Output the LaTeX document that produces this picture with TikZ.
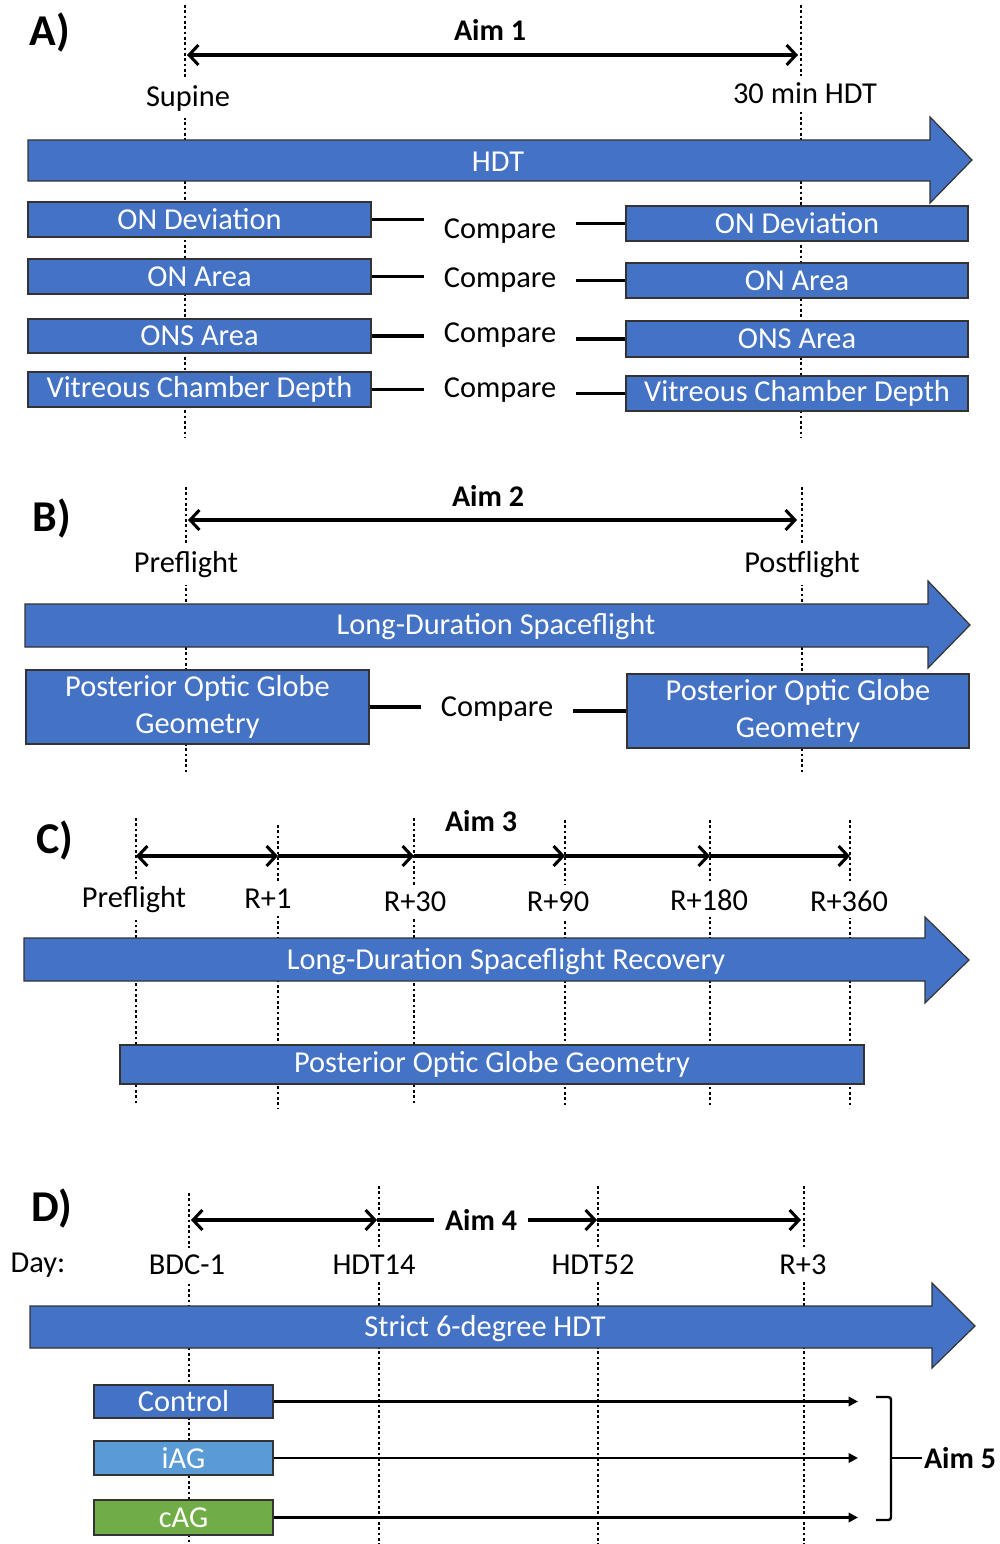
\documentclass[tikz,border=0pt]{standalone}
\usepackage{fontspec}
\setmainfont{Carlito}
\usetikzlibrary{arrows.meta,fit}
\definecolor{myblue}{HTML}{4472C4}
\definecolor{lightblue}{HTML}{5B9BD5}
\definecolor{mygreen}{HTML}{70AD47}
\begin{document}
\begin{tikzpicture}[x=0.75pt,y=-0.75pt,
  txt/.style={font=\fontsize{22.8}{28}\selectfont},
  lbl/.style={txt, fill=white, inner xsep=6pt, inner ysep=5pt},
  cmp/.style={txt, fill=white, minimum width=114pt, inner ysep=4pt},
  aim/.style={font=\bfseries\fontsize{22.5}{27}\selectfont, fill=white, inner sep=3pt},
  panel/.style={font=\bfseries\fontsize{33}{36}\selectfont, inner sep=0pt},
  vline/.style={line width=1.6pt, dash pattern=on 2pt off 2pt},
  bar/.style={fill=myblue, draw=black!80, line width=0.9pt},
  box/.style={bar, inner sep=0pt},
  bartext/.style={txt, text=white, inner sep=0pt, align=center},
  tl/.style={line width=2.3pt, -{Straight Barb[length=7pt,width=15pt]}},
  tlb/.style={line width=2.3pt, {Straight Barb[length=7pt,width=15pt]}-{Straight Barb[length=7pt,width=15pt]}},
  link/.style={line width=2.3pt},
  garrow/.style={line width=1.8pt, -{Triangle[length=7pt,width=7pt]}}
]
\useasboundingbox (0,0) rectangle (999,1544);

% ================= A =================
\coordinate (a1t) at (185,5);   \coordinate (a1b) at (185,438);
\coordinate (a2t) at (801,5);   \coordinate (a2b) at (801,438);
\draw[vline] (a1t) -- (a1b);
\draw[vline] (a2t) -- (a2b);
\node[panel] (pA) at (50,33) {A)};
\node[aim] (aim1) at (490,30) {Aim 1};
\coordinate (a1s) at (187,55); \coordinate (a1e) at (798,55);
\draw[tlb] (a1s) -- (a1e);
\node[lbl] (supine) at (188,98) {Supine};
\node[lbl] (hdt30) at (805,93) {30 min HDT};
\path[bar] (28,140) -- (930,140) -- (930,117) -- (972,160) -- (930,203) -- (930,181) -- (28,181) -- cycle;
\node[bartext] (hdtA) at (498,162) {HDT};

\node[box, fit={(28,202)(371,237)}] (l1) {};
\node[box, fit={(28,259)(371,294)}] (l2) {};
\node[box, fit={(28,319)(371,353)}] (l3) {};
\node[box, fit={(28,372)(371,407)}] (l4) {};
\node[box, fit={(626,206)(968,241)}] (r1) {};
\node[box, fit={(626,263)(968,298)}] (r2) {};
\node[box, fit={(626,321)(968,357)}] (r3) {};
\node[box, fit={(626,376)(968,411)}] (r4) {};
\node[bartext] (tl1) at (l1) {ON Deviation};
\node[bartext] (tl2) at (l2) {ON Area};
\node[bartext] (tl3) at (l3) {ONS Area};
\node[bartext] (tl4) at (l4) {Vitreous Chamber Depth};
\node[bartext] (tr1) at (r1) {ON Deviation};
\node[bartext] (tr2) at (r2) {ON Area};
\node[bartext] (tr3) at (r3) {ONS Area};
\node[bartext] (tr4) at (r4) {Vitreous Chamber Depth};
\node[cmp] (c1) at (500,231) {Compare};
\node[cmp] (c2) at (500,280) {Compare};
\node[cmp] (c3) at (500,335) {Compare};
\node[cmp] (c4) at (500,390) {Compare};
\foreach \i in {1,2,3,4}{
  \draw[link] (l\i.east) -- (l\i.east -| c\i.west);
  \draw[link] (r\i.west -| c\i.east) -- (r\i.west);
}

% ================= B =================
\coordinate (b1t) at (186,487); \coordinate (b1b) at (186,772);
\coordinate (b2t) at (802,487); \coordinate (b2b) at (802,772);
\draw[vline] (b1t) -- (b1b);
\draw[vline] (b2t) -- (b2b);
\node[panel] (pB) at (52,518) {B)};
\node[aim] (aim2) at (488,496) {Aim 2};
\coordinate (b1s) at (188,520); \coordinate (b1e) at (797,520);
\draw[tlb] (b1s) -- (b1e);
\node[lbl] (preB) at (186,565) {Preflight};
\node[lbl] (postB) at (802,565) {Postflight};
\path[bar] (25,604) -- (928,604) -- (928,581) -- (970,625) -- (928,668) -- (928,647) -- (25,647) -- cycle;
\node[bartext] (ldsB) at (496,627) {Long-Duration Spaceflight};
\node[box, fit={(26,670)(369,744)}] (bl) {};
\node[box, fit={(627,674)(969,748)}] (br) {};
\node[bartext] (tbl) at (bl) {Posterior Optic Globe\\Geometry};
\node[bartext] (tbr) at (br) {Posterior Optic Globe\\Geometry};
\node[cmp] (cb) at (497,709) {Compare};
\draw[link] (bl.east) -- (bl.east -| cb.west);
\draw[link] (br.west -| cb.east) -- (br.west);

% ================= C =================
\foreach \n/\x/\t/\b in {1/136/818/1105, 2/278/825/1108, 3/414/818/1105, 4/565/820/1105, 5/710/820/1105, 6/850/820/1108}{
  \coordinate (ct\n) at (\x,\t); \coordinate (cb\n) at (\x,\b);
  \coordinate (cm\n) at (\x,856);
  \draw[vline] (ct\n) -- (cb\n);
}
\node[panel] (pC) at (55,840) {C)};
\node[aim] (aim3) at (481,821) {Aim 3};
\draw[tlb] (cm1) -- (cm2);
\draw[tl] (cm2) -- (cm3);
\draw[tl] (cm3) -- (cm4);
\draw[tl] (cm4) -- (cm5);
\draw[tl] (cm5) -- (cm6);
\node[lbl] (preC) at (134,900) {Preflight};
\node[lbl] (r1C) at (268,899) {R+1};
\node[lbl] (r30C) at (415,902) {R+30};
\node[lbl] (r90C) at (558,902) {R+90};
\node[lbl] (r180C) at (709,900) {R+180};
\node[lbl] (r360C) at (849,901) {R+360};
\path[bar] (24,938) -- (925,938) -- (925,917) -- (969,960) -- (925,1003) -- (925,981) -- (24,981) -- cycle;
\node[bartext] (ldsC) at (506,962) {Long-Duration Spaceflight Recovery};
\node[box, fit={(120,1045)(864,1084)}] (pogC) {};
\node[bartext] (tpogC) at (pogC) {Posterior Optic Globe Geometry};

% ================= D =================
\foreach \n/\x/\t in {1/189/1193, 2/379/1186, 3/598/1186, 4/804/1186}{
  \coordinate (dt\n) at (\x,\t); \coordinate (db\n) at (\x,1544);
  \draw[vline] (dt\n) -- (db\n);
}
\node[panel] (pD) at (52,1208) {D)};
\coordinate (dm1) at (191,1220);
\coordinate (dm2) at (377,1220);
\coordinate (dm3) at (597,1220);
\coordinate (dm4) at (801,1220);
\draw[tlb] (dm1) -- (dm2);
\draw[tl] (dm2) -- (dm3);
\draw[tl] (dm3) -- (dm4);
\node[aim, inner xsep=8pt] (aim4) at (481,1220) {Aim 4};
\node[lbl] (day) at (38,1265) {Day:};
\node[lbl] (bdc) at (187,1265) {BDC-1};
\node[lbl] (h14) at (374,1265) {HDT14};
\node[lbl] (h52) at (593,1265) {HDT52};
\node[lbl] (r3) at (803,1265) {R+3};
\path[bar] (30,1306) -- (932,1306) -- (932,1283) -- (975,1326) -- (932,1368) -- (932,1348) -- (30,1348) -- cycle;
\node[bartext] (shdt) at (485,1329) {Strict 6-degree HDT};
\node[box, fit={(94,1385)(273,1418)}] (ctrl) {};
\node[box, fill=lightblue, fit={(94,1441)(273,1475)}] (iag) {};
\node[box, fill=mygreen, fit={(94,1500)(273,1535)}] (cag) {};
\node[bartext] (tctrl) at (ctrl) {Control};
\node[bartext] (tiag) at (iag) {iAG};
\node[bartext] (tcag) at (cag) {cAG};
\coordinate (gend) at (858,1400);
\draw[garrow] (ctrl.east) -- (ctrl.east -| gend);
\draw[garrow] (iag.east) -- (iag.east -| gend);
\draw[garrow] (cag.east) -- (cag.east -| gend);
\node[aim, inner sep=1pt] (aim5) at (960,1458) {Aim 5};
\coordinate (brtip) at (891,1458);
\draw[line width=1.8pt, rounded corners=2pt] (876,1397) -- (891,1397) -- (891,1520) -- (876,1520);
\draw[line width=1.8pt] (brtip) -- (aim5.west);
\end{tikzpicture}
\end{document}
